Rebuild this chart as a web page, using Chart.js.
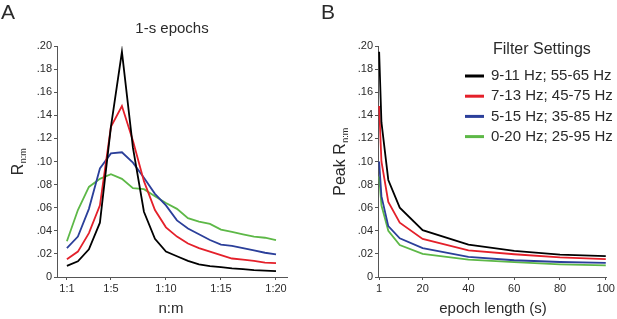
<!DOCTYPE html>
<html>
<head>
<meta charset="utf-8">
<script src="https://cdn.jsdelivr.net/npm/chart.js@4"></script>
<style>
  body { margin: 0; background: #fff; }
  .panel { position: absolute; top: 0; height: 319px; }
  #panelA { left: 0; width: 310px; }
  #panelB { left: 310px; width: 307px; }
</style>
</head>
<body>
<div class="panel" id="panelA"><canvas id="chartA"></canvas></div>
<div class="panel" id="panelB"><canvas id="chartB"></canvas></div>
<script>
// panel A: R(n:m) for 1-s epochs, index = m in 1:m
var ratioIdx = [1,2,3,4,5,6,7,8,9,10,11,12,13,14,15,16,17,18,19,20];
var ratioTicks = [1,5,10,15,20];
var rBlack = [0.0096,0.0136,0.024,0.047,0.13,0.195,0.112,0.0565,0.033,0.022,0.018,0.014,0.011,0.0095,0.0085,0.0075,0.0068,0.006,0.0055,0.005];
var rRed   = [0.0154,0.022,0.038,0.062,0.13,0.148,0.118,0.083,0.058,0.043,0.035,0.029,0.025,0.022,0.019,0.016,0.015,0.014,0.0125,0.012];
var rBlue  = [0.025,0.035,0.059,0.094,0.107,0.108,0.099,0.086,0.072,0.062,0.049,0.042,0.037,0.032,0.028,0.027,0.025,0.023,0.021,0.0195];
var rGreen = [0.031,0.058,0.078,0.085,0.089,0.085,0.077,0.076,0.070,0.064,0.059,0.051,0.048,0.046,0.041,0.039,0.037,0.035,0.034,0.032];

// panel B: peak R(n:m) vs epoch length
var epochLen = [1,2,5,10,20,40,60,80,100];
var epochTicks = [1,20,40,60,80,100];
var pBlack = [0.195,0.134,0.084,0.060,0.0405,0.028,0.0226,0.0194,0.018];
var pRed   = [0.148,0.100,0.065,0.047,0.033,0.023,0.0197,0.017,0.0154];
var pBlue  = [0.100,0.070,0.044,0.0335,0.025,0.0175,0.0145,0.013,0.0122];
var pGreen = [0.087,0.062,0.040,0.0277,0.020,0.015,0.0128,0.011,0.010];

var filterLabels = ['9-11 Hz; 55-65 Hz','7-13 Hz; 45-75 Hz','5-15 Hz; 35-85 Hz','0-20 Hz; 25-95 Hz'];
var colors = ['#000000','#e4202a','#2b3f9a','#5db847'];

var FONT = '"Liberation Sans", Arial, sans-serif';
var TXT = '#2a2a2a';

function series(xs, ys, i) {
  return {
    label: filterLabels[i],
    data: xs.map(function(x, k) { return {x: x, y: ys[k]}; }),
    borderColor: colors[i],
    borderWidth: 1.8,
    pointRadius: 0,
    tension: 0,
    fill: false
  };
}

function yTick(v) {
  if (Math.abs(v) < 1e-9) return '0';
  var n = Math.round(v * 100);
  return '.' + (n < 10 ? '0' + n : '' + n);
}

function axisStyle() {
  return {
    border: {display: true, color: '#555', width: 1},
    grid: {display: true, drawOnChartArea: false, drawTicks: true, tickLength: 3, color: '#555'},
    ticks: {color: TXT, font: {family: FONT, size: 11}, padding: 2}
  };
}

function rotatedSub(ctx, x, cy, main, sub) {
  ctx.save();
  ctx.translate(x, cy);
  ctx.rotate(-Math.PI / 2);
  ctx.font = '16px ' + FONT;
  var w1 = ctx.measureText(main).width;
  ctx.font = '9px ' + FONT;
  var w2 = ctx.measureText(sub).width;
  var start = -(w1 + w2) / 2;
  ctx.fillStyle = TXT;
  ctx.textBaseline = 'alphabetic';
  ctx.textAlign = 'left';
  ctx.font = '16px ' + FONT;
  ctx.fillText(main, start, 0);
  ctx.font = '9px ' + FONT;
  ctx.fillText(sub, start + w1 + 0.5, 3);
  ctx.restore();
}

function text(ctx, s, x, y, size, align) {
  ctx.save();
  ctx.font = size + 'px ' + FONT;
  ctx.fillStyle = TXT;
  ctx.textAlign = align || 'center';
  ctx.textBaseline = 'middle';
  ctx.fillText(s, x, y);
  ctx.restore();
}

var decorA = {
  id: 'decorA',
  afterDraw: function(chart) {
    var ctx = chart.ctx;
    text(ctx, 'A', 8, 13, 21);
    text(ctx, '1-s epochs', 172, 29, 15);
    text(ctx, 'n:m', 171, 309, 15);
    rotatedSub(ctx, 23, 162, 'R', 'n:m');
  }
};

var decorB = {
  id: 'decorB',
  afterDraw: function(chart) {
    var ctx = chart.ctx;
    text(ctx, 'B', 18, 13, 21);
    text(ctx, 'epoch length (s)', 183, 309, 15);
    rotatedSub(ctx, 35, 162, 'Peak R', 'n:m');
    // legend
    text(ctx, 'Filter Settings', 183, 50, 16, 'left');
    chart.data.datasets.forEach(function(ds, i) {
      var y = 76 + i * 20.2;
      ctx.save();
      ctx.strokeStyle = ds.borderColor;
      ctx.lineWidth = 3;
      ctx.beginPath();
      ctx.moveTo(155, y);
      ctx.lineTo(174, y);
      ctx.stroke();
      ctx.restore();
      text(ctx, ds.label, 181, y, 15, 'left');
    });
  }
};

function yScale() {
  var s = axisStyle();
  s.min = 0; s.max = 0.2;
  s.ticks.stepSize = 0.02;
  s.ticks.callback = yTick;
  return s;
}

var xA = axisStyle();
xA.type = 'linear'; xA.min = 0.1; xA.max = 21;
xA.afterBuildTicks = function(sc) { sc.ticks = ratioTicks.map(function(v) { return {value: v}; }); };
xA.ticks.callback = function(v) { return '1:' + v; };
xA.afterFit = function(sc) { sc.height = 42; };
var yA = yScale();
yA.afterFit = function(sc) { sc.width = 57; };

new Chart('chartA', {
  type: 'line',
  data: {datasets: [series(ratioIdx, rBlack, 0), series(ratioIdx, rRed, 1), series(ratioIdx, rBlue, 2), series(ratioIdx, rGreen, 3)]},
  options: {
    responsive: true, maintainAspectRatio: false, animation: false,
    layout: {padding: {left: 0, right: 23, top: 46, bottom: 0}},
    plugins: {legend: {display: false}, tooltip: {enabled: false}},
    scales: {x: xA, y: yA}
  },
  plugins: [decorA]
});

var xB = axisStyle();
xB.type = 'linear'; xB.min = 0.5; xB.max = 100.5;
xB.afterBuildTicks = function(sc) { sc.ticks = epochTicks.map(function(v) { return {value: v}; }); };
xB.afterFit = function(sc) { sc.height = 42; };
var yB = yScale();
yB.afterFit = function(sc) { sc.width = 68; };

new Chart('chartB', {
  type: 'line',
  data: {datasets: [series(epochLen, pBlack, 0), series(epochLen, pRed, 1), series(epochLen, pBlue, 2), series(epochLen, pGreen, 3)]},
  options: {
    responsive: true, maintainAspectRatio: false, animation: false,
    layout: {padding: {left: 0, right: 9, top: 46, bottom: 0}},
    plugins: {legend: {display: false}, tooltip: {enabled: false}},
    scales: {x: xB, y: yB}
  },
  plugins: [decorB]
});
</script>
</body>
</html>
